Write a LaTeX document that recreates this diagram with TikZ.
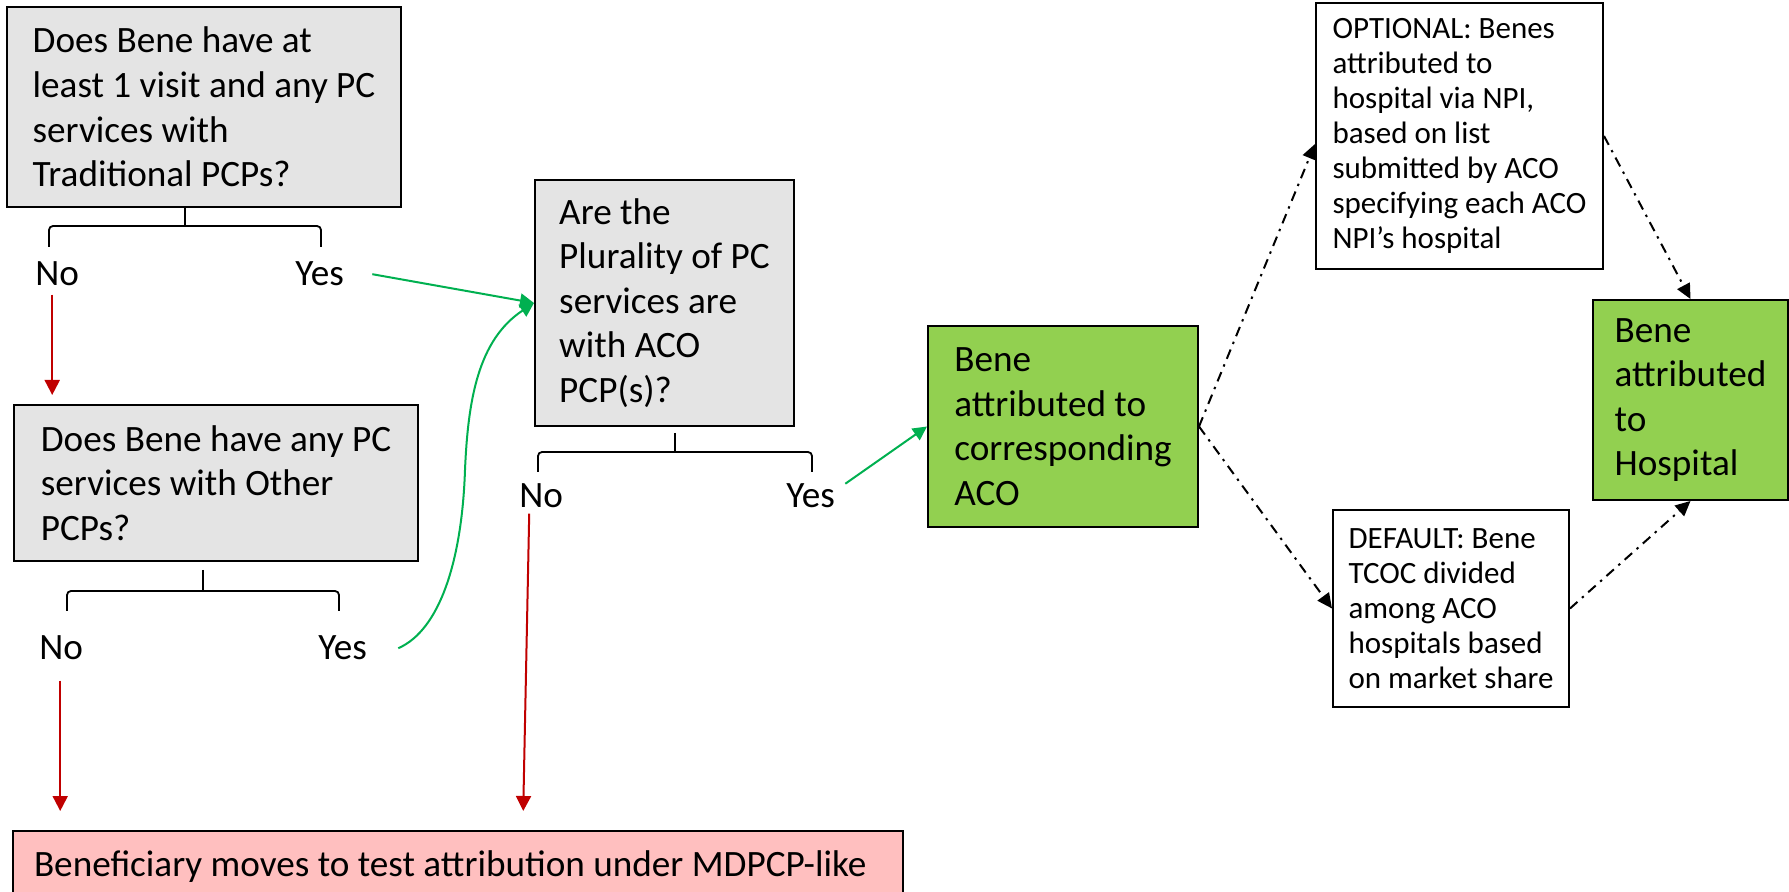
\documentclass[tikz,border=0pt]{standalone}
\usepackage{fontspec}
\setmainfont{Carlito}
\usepackage{xcolor}
\usetikzlibrary{arrows.meta, calc}

\definecolor{boxgray}{HTML}{E4E4E4}
\definecolor{acogreen}{HTML}{92D050}
\definecolor{movepink}{HTML}{FFBFBF}
\definecolor{noRed}{HTML}{C00000}
\definecolor{yesGreen}{HTML}{00B050}

\newcommand{\bigtxt}{\fontsize{18.6}{22.3}\selectfont}
\newcommand{\smalltxt}{\fontsize{15.5}{17.5}\selectfont}

\begin{document}
\begin{tikzpicture}[x=0.5pt, y=-0.5pt,
	box/.style={draw, line width=1pt, anchor=north west, align=left, inner sep=3pt, font=\bigtxt},
	question/.style={box, fill=boxgray},
	result/.style={box, fill=acogreen},
	option/.style={box, fill=white, font=\smalltxt},
	answer/.style={inner sep=0pt, anchor=base west, font=\bigtxt},
	brace/.style={line width=0.9pt, rounded corners=2pt},
	noarrow/.style={draw=noRed, line width=1pt, -{Triangle[length=7.5pt, width=7.5pt]}},
	yesarrow/.style={draw=yesGreen, line width=1pt, -{Triangle[length=7pt, width=7pt]}},
	ddarrow/.style={line width=1pt, dash pattern=on 5pt off 3pt on 1.2pt off 3pt, -{Triangle[length=7.5pt, width=7pt]}}]

	\useasboundingbox (0,0) rectangle (1789,892);

	\node[question, minimum width=197pt, minimum height=100pt] (q1) at (6,6) {Does Bene have at\\least 1 visit and any PC\\services with\\Traditional PCPs?};
	\node[question, minimum width=202pt, minimum height=78pt] (q2) at (13,404) {Does Bene have any PC\\services with Other\\PCPs?};
	\node[question, minimum width=129.5pt, minimum height=123pt] (q3) at (534,179) {Are the\\Plurality of PC\\services are\\with ACO\\PCP(s)?};
	\node[result, minimum width=135pt, minimum height=100.5pt] (aco) at (927,325) {Bene\\attributed to\\corresponding\\ACO};
	\node[result, minimum width=97.5pt, minimum height=100pt] (hosp) at (1592,299) {Bene\\attributed\\to\\Hospital};
	\node[option, minimum width=143.5pt, minimum height=133pt] (opt) at (1315,2) {OPTIONAL: Benes\\attributed to\\hospital via NPI,\\based on list\\submitted by ACO\\specifying each ACO\\NPI’s hospital};
	\node[option, minimum width=118pt, minimum height=98.5pt] (dflt) at (1332,509) {DEFAULT: Bene\\TCOC divided\\among ACO\\hospitals based\\on market share};
	\node[box, fill=movepink, anchor=base west, inner xsep=10.5pt, inner ysep=0pt, text height=22.5pt, text depth=22pt] (move) at (12,876) {\makebox[424pt][l]{Beneficiary moves to test attribution under MDPCP-like}};

	\node[answer] (no1) at (35,286) {No};
	\node[answer] (yes1) at (295,286) {Yes};
	\node[answer] (no2) at (39,660) {No};
	\node[answer] (yes2) at (318,660) {Yes};
	\node[answer] (no3) at (519,508) {No};
	\node[answer] (yes3) at (786,508) {Yes};

	\coordinate (b1) at (185,226);
	\coordinate (b1l) at (49,247);
	\coordinate (b1r) at (321,247);
	\coordinate (b2) at (203,591);
	\coordinate (b2l) at (67,611);
	\coordinate (b2r) at (339,611);
	\coordinate (b3) at (675,452);
	\coordinate (b3l) at (538,472);
	\coordinate (b3r) at (812,472);

	\begin{scope}[brace]
		\draw (b1 |- q1.south) -- (b1);
		\draw (b1l) |- (b1) -| (b1r);
		\draw ($(b2 |- q2.south)+(0,8)$) -- (b2);
		\draw (b2l) |- (b2) -| (b2r);
		\draw ($(b3 |- q3.south)+(0,6)$) -- (b3);
		\draw (b3l) |- (b3) -| (b3r);
	\end{scope}

	\draw[noarrow] ($(no1.south)+(-5,8)$) -- ($(no1.south |- q2.north)+(-5,-9)$);
	\draw[noarrow] ($(no2.south)+(-1,20)$) -- ($(no2.south |- move.north)+(-1,-19)$);
	\draw[noarrow] ($(no3.south)+(-12,5)$) -- ($(no3.south |- move.north)+(-18,-19)$);

	\draw[yesarrow] ($(yes1.east)+(28,0)$) -- (q3.west);
	\draw[yesarrow] ($(yes2.east)+(31,0)$) .. controls (440,630) and (462,560) .. (465,470) .. controls (468,400) and (478,340) .. (q3.west);
	\draw[yesarrow] ($(yes3.north east)+(10,0)$) -- (aco.west);

	\draw[ddarrow] (aco.east) -- ($(opt.west)+(0,8)$);
	\draw[ddarrow] (aco.east) -- (dflt.west);
	\draw[ddarrow] (opt.east) -- (hosp.north);
	\draw[ddarrow] (dflt.east) -- (hosp.south);
\end{tikzpicture}
\end{document}
